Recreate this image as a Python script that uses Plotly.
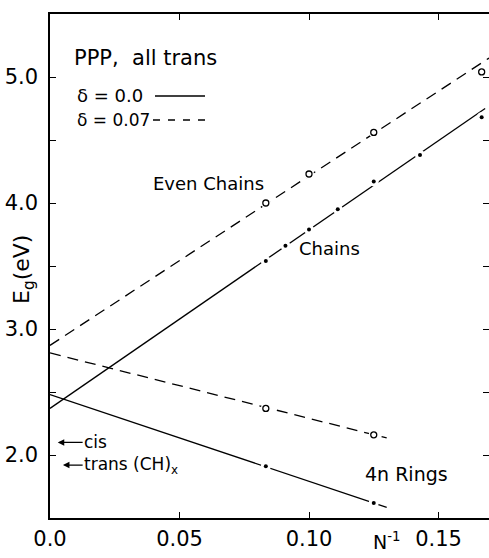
import plotly.graph_objects as go

# PPP band gaps (eV) versus inverse chain length N^-1
# ---- polyene chains, delta = 0.0 (filled dots, solid fit line)
chain_inv_n = [1/12, 1/11, 1/10, 1/9, 1/8, 1/7, 1/6]
chain_eg = [3.54, 3.66, 3.79, 3.95, 4.17, 4.38, 4.68]
chain_fit_x = [0.0, 0.168]
chain_fit_eg = [2.37, 4.75]

# ---- even chains, delta = 0.07 (open circles, dashed fit line)
even_inv_n = [1/12, 1/10, 1/8, 1/6]
even_eg = [4.00, 4.23, 4.56, 5.04]
even_fit_x = [0.0, 0.1695]
even_fit_eg = [2.87, 5.15]

# ---- 4n rings, delta = 0.0 (filled dots, solid line)
ring0_inv_n = [1/12, 1/8]
ring0_eg = [1.91, 1.62]
ring0_fit_x = [0.0, 0.130]
ring0_fit_eg = [2.48, 1.585]

# ---- 4n rings, delta = 0.07 (open circles, dashed line)
ring7_inv_n = [1/12, 1/8]
ring7_eg = [2.37, 2.16]
ring7_fit_x = [0.0, 0.130]
ring7_fit_eg = [2.81, 2.135]

# ---- experimental gaps of polyacetylene
cis_eg = 2.10
trans_eg = 1.92

x_ticks = [0.0, 0.05, 0.10, 0.15]
x_tick_text = ["0.0", "0.05", "0.10", "0.15"]
y_ticks = [2.0, 3.0, 4.0, 5.0]
y_tick_text = ["2.0", "3.0", "4.0", "5.0"]
y_side_ticks = [2.0, 2.5, 3.0, 3.5, 4.0, 4.5, 5.0]

FONT = "DejaVu Sans"
INK = "black"
LW = 1.3

fig = go.Figure()

def fit_line(xs, ys, dash):
    fig.add_trace(go.Scatter(x=xs, y=ys, mode="lines",
                             line=dict(color=INK, width=LW, dash=dash),
                             hoverinfo="skip", showlegend=False))

fit_line(even_fit_x, even_fit_eg, "11px,7px")
fit_line(chain_fit_x, chain_fit_eg, "solid")
fit_line(ring7_fit_x, ring7_fit_eg, "11px,7px")
fit_line(ring0_fit_x, ring0_fit_eg, "solid")

# white halos open small gaps in the lines around each point
for xs, ys in [(chain_inv_n, chain_eg), (even_inv_n, even_eg),
               (ring0_inv_n, ring0_eg), (ring7_inv_n, ring7_eg)]:
    fig.add_trace(go.Scatter(x=xs, y=ys, mode="markers",
                             marker=dict(size=10, color="white"),
                             hoverinfo="skip", showlegend=False))

for xs, ys in [(chain_inv_n, chain_eg), (ring0_inv_n, ring0_eg)]:
    fig.add_trace(go.Scatter(x=xs, y=ys, mode="markers",
                             marker=dict(size=4, color=INK, symbol="circle"),
                             showlegend=False))
for xs, ys in [(even_inv_n, even_eg), (ring7_inv_n, ring7_eg)]:
    fig.add_trace(go.Scatter(x=xs, y=ys, mode="markers",
                             marker=dict(size=6, color=INK, symbol="circle-open",
                                         line=dict(width=1.3, color=INK)),
                             showlegend=False))

# empty trace so the right-hand tick axis is built
fig.add_trace(go.Scatter(x=[], y=[], yaxis="y2", showlegend=False))

# ---- layout geometry
W, H = 489, 558
ML, MR, MT, MB = 50, 0, 14, 40
PW, PH = W - ML - MR, H - MT - MB

def px(x):
    return (x - ML) / PW

def py(y):
    return (H - MB - y) / PH

def label(text, x, y, size, xanchor="left", angle=0):
    fig.add_annotation(text=text, xref="paper", yref="paper",
                       x=px(x), y=py(y), xanchor=xanchor, yanchor="middle",
                       showarrow=False, textangle=angle,
                       font=dict(family=FONT, size=size, color=INK))

label("PPP,  all trans", 72, 58, 21)
label("δ = 0.0", 75, 96, 18)
label("δ = 0.07", 75, 120, 17)
label("Even Chains", 151, 183, 18)
label("Chains", 297, 248, 18)
label("4n Rings", 363, 474, 19)
label("E<sub>g</sub>(eV)", 23, 270, 22, xanchor="center", angle=-90)
label("N<sup>-1</sup>", 386, 541, 19, xanchor="center")

# legend line samples
fig.add_shape(type="line", xref="paper", yref="paper",
              x0=px(155), x1=px(205), y0=py(96), y1=py(96),
              line=dict(color=INK, width=LW))
fig.add_shape(type="line", xref="paper", yref="paper",
              x0=px(153), x1=px(205), y0=py(120), y1=py(120),
              line=dict(color=INK, width=LW, dash="7px,8px"))

# arrows marking the measured polyacetylene gaps, labelled at their tails
for text, eg, x_head in [("cis", cis_eg, 0.003),
                         ("trans (CH)<sub>x</sub>", trans_eg, 0.005)]:
    fig.add_annotation(x=x_head, y=eg, ax=0.0126, ay=eg, xref="x", yref="y",
                       axref="x", ayref="y", text=text, showarrow=True,
                       xanchor="left", yanchor="middle",
                       font=dict(family=FONT, size=17, color=INK),
                       arrowhead=2, arrowsize=1.0, arrowwidth=1.3,
                       arrowcolor=INK, standoff=0, borderpad=0)

axis_common = dict(showgrid=False, zeroline=False, ticks="inside",
                   ticklen=6, tickwidth=1.3, tickcolor=INK,
                   linecolor=INK, linewidth=1.5,
                   tickfont=dict(family=FONT, size=21, color=INK))

fig.update_layout(
    width=W, height=H,
    margin=dict(l=ML, r=MR, t=MT, b=MB, pad=0),
    paper_bgcolor="white", plot_bgcolor="white",
    showlegend=False,
    xaxis=dict(range=[0, 0.1695], tickvals=x_ticks, ticktext=x_tick_text,
               showline=True, mirror="ticks", ticklabelstandoff=1,
               **axis_common),
    yaxis=dict(range=[1.5, 5.5], tickvals=y_ticks, ticktext=y_tick_text,
               showline=True, mirror=False, ticklabelstandoff=6,
               minor=dict(dtick=0.5, tick0=0, ticks="inside", ticklen=6,
                          tickwidth=1.3, tickcolor=INK, showgrid=False),
               **axis_common),
    yaxis2=dict(range=[1.5, 5.5], tickvals=y_side_ticks, overlaying="y",
                side="right", showline=False, showticklabels=False,
                showgrid=False, zeroline=False, ticks="inside", ticklen=6,
                tickwidth=1.3, tickcolor=INK),
)

fig.write_html("out.html")
